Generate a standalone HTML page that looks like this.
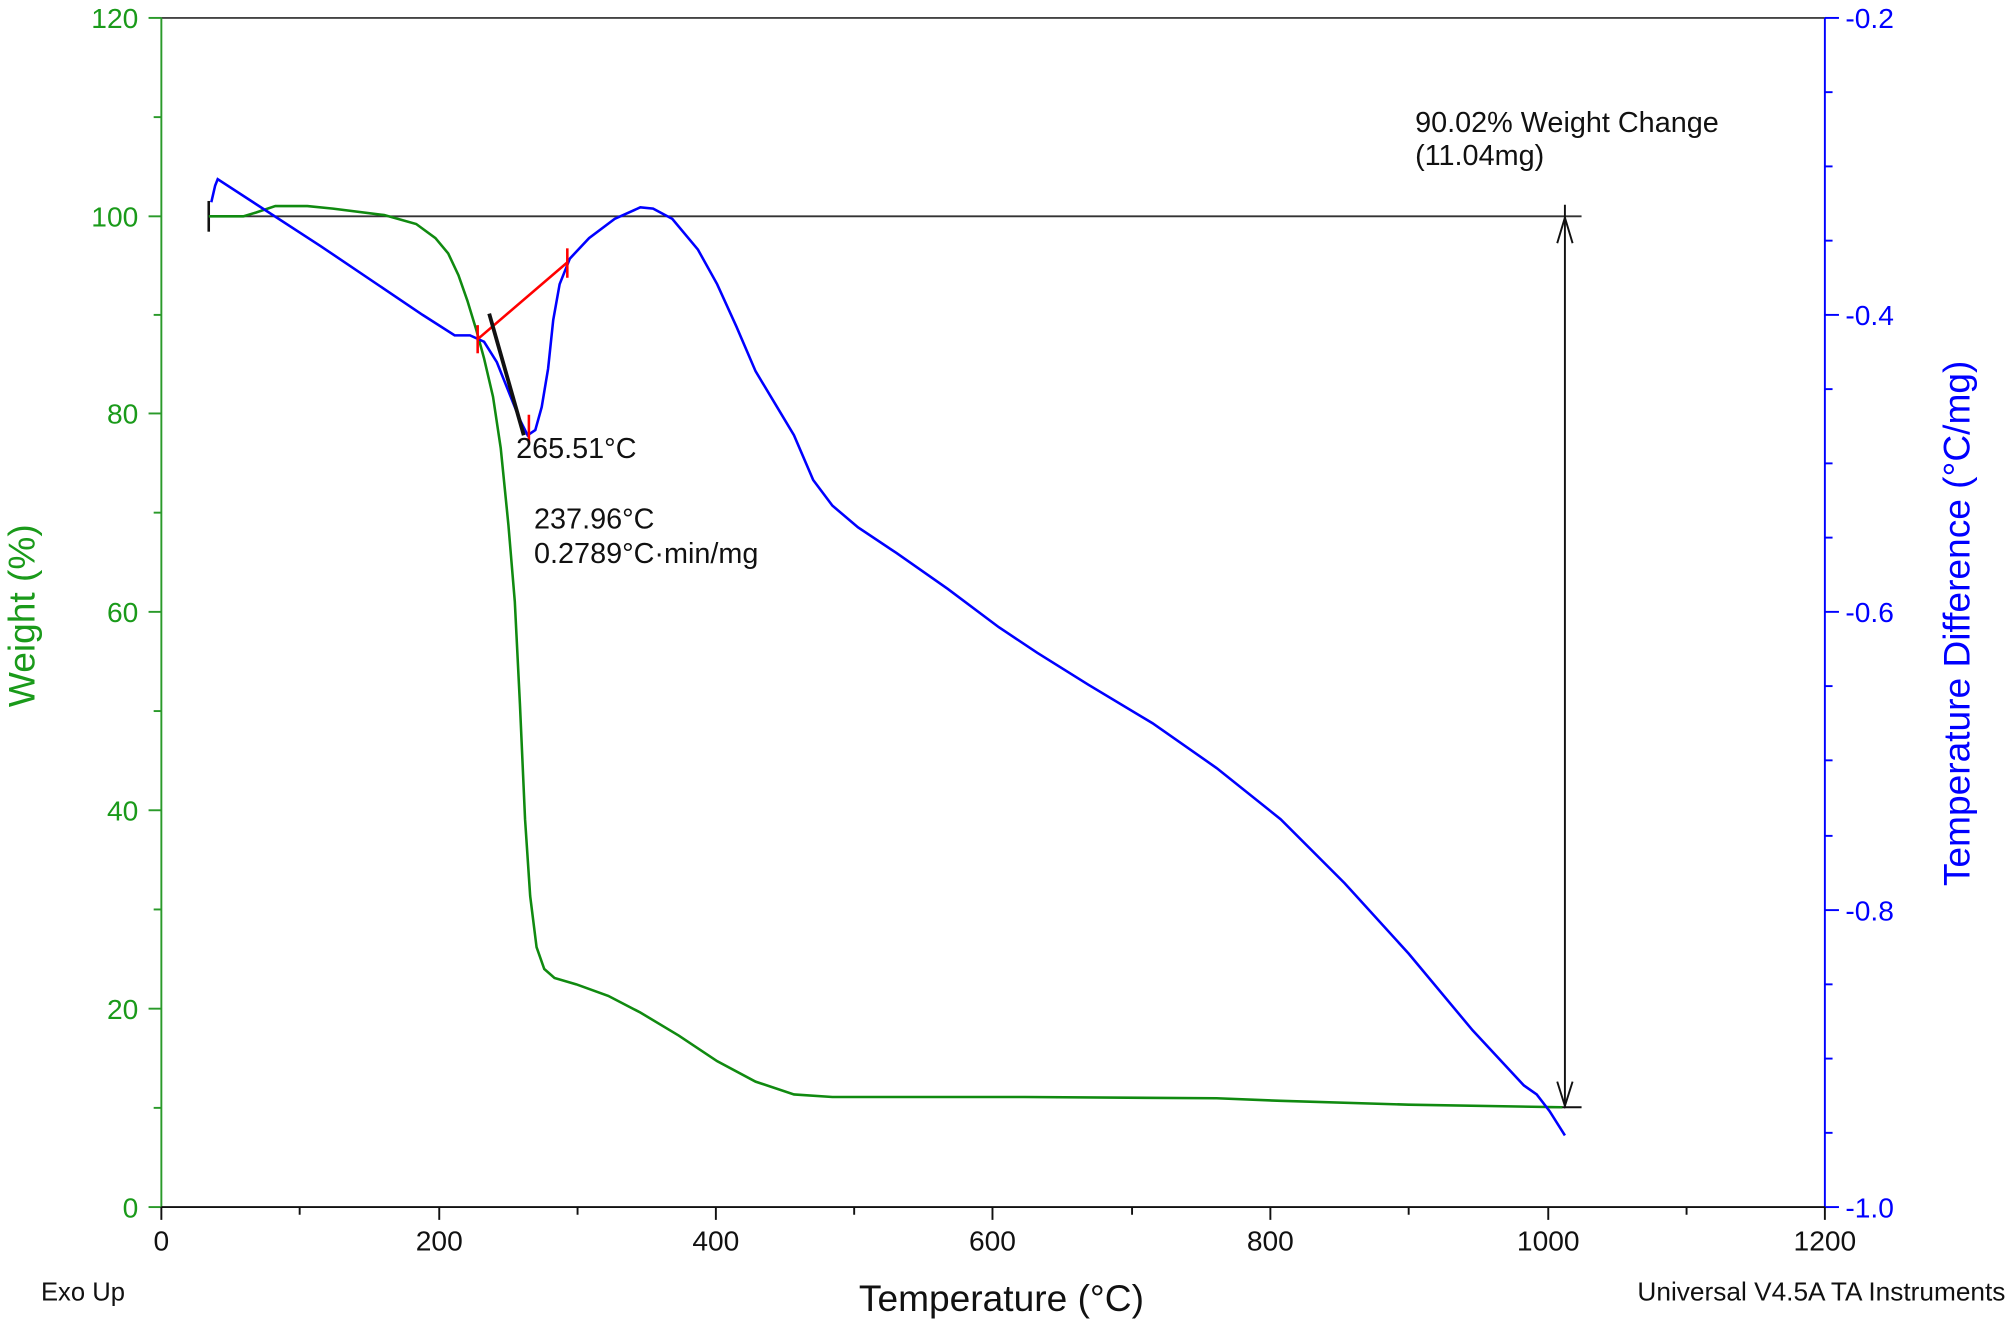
<!DOCTYPE html>
<html><head><meta charset="utf-8"><style>html,body{margin:0;padding:0;background:#fff}svg{display:block}text{font-family:"Liberation Sans",sans-serif}</style></head>
<body>
<svg width="2008" height="1321" viewBox="0 0 1568 1032" preserveAspectRatio="none" xmlns="http://www.w3.org/2000/svg">
<rect width="1568" height="1032" fill="#fff"/>
<line x1="126" y1="14" x2="1425" y2="14" stroke="#444" stroke-width="1.5"/>
<line x1="126" y1="14" x2="126" y2="943" stroke="#2a9a2a" stroke-width="1.5"/>
<g stroke="#2a9a2a" stroke-width="1.5">
<line x1="116" y1="14" x2="126" y2="14"/><line x1="120" y1="91.5" x2="126" y2="91.5"/>
<line x1="116" y1="169" x2="126" y2="169"/><line x1="120" y1="246" x2="126" y2="246"/>
<line x1="116" y1="323" x2="126" y2="323"/><line x1="120" y1="400.5" x2="126" y2="400.5"/>
<line x1="116" y1="478" x2="126" y2="478"/><line x1="120" y1="555.5" x2="126" y2="555.5"/>
<line x1="116" y1="633" x2="126" y2="633"/><line x1="120" y1="710.5" x2="126" y2="710.5"/>
<line x1="116" y1="788" x2="126" y2="788"/><line x1="120" y1="865.5" x2="126" y2="865.5"/>
<line x1="116" y1="943" x2="126" y2="943"/>
</g>
<g fill="#1a9a1a" font-size="22" text-anchor="end">
<text x="108" y="22">120</text><text x="108" y="177">100</text><text x="108" y="331">80</text>
<text x="108" y="486">60</text><text x="108" y="641">40</text><text x="108" y="796">20</text><text x="108" y="951">0</text>
</g>
<line x1="1425" y1="14" x2="1425" y2="943" stroke="#00f" stroke-width="1.5"/>
<g stroke="#00f" stroke-width="1.5">
<line x1="1425" y1="14" x2="1436" y2="14"/><line x1="1425" y1="72" x2="1431" y2="72"/><line x1="1425" y1="130" x2="1431" y2="130"/><line x1="1425" y1="188" x2="1431" y2="188"/>
<line x1="1425" y1="246" x2="1436" y2="246"/><line x1="1425" y1="304" x2="1431" y2="304"/><line x1="1425" y1="362" x2="1431" y2="362"/><line x1="1425" y1="420" x2="1431" y2="420"/>
<line x1="1425" y1="478" x2="1436" y2="478"/><line x1="1425" y1="536" x2="1431" y2="536"/><line x1="1425" y1="594" x2="1431" y2="594"/><line x1="1425" y1="653" x2="1431" y2="653"/>
<line x1="1425" y1="711" x2="1436" y2="711"/><line x1="1425" y1="769" x2="1431" y2="769"/><line x1="1425" y1="827" x2="1431" y2="827"/><line x1="1425" y1="885" x2="1431" y2="885"/>
<line x1="1425" y1="943" x2="1436" y2="943"/>
</g>
<g fill="#00f" font-size="22">
<text x="1441" y="22">-0.2</text><text x="1441" y="254">-0.4</text><text x="1441" y="486">-0.6</text><text x="1441" y="719">-0.8</text><text x="1441" y="951">-1.0</text>
</g>
<line x1="126" y1="943" x2="1425" y2="943" stroke="#111" stroke-width="1.5"/>
<g stroke="#111" stroke-width="1.5">
<line x1="126" y1="943" x2="126" y2="953"/><line x1="234" y1="943" x2="234" y2="949"/>
<line x1="343" y1="943" x2="343" y2="953"/><line x1="451" y1="943" x2="451" y2="949"/>
<line x1="559" y1="943" x2="559" y2="953"/><line x1="667" y1="943" x2="667" y2="949"/>
<line x1="775" y1="943" x2="775" y2="953"/><line x1="884" y1="943" x2="884" y2="949"/>
<line x1="992" y1="943" x2="992" y2="953"/><line x1="1100" y1="943" x2="1100" y2="949"/>
<line x1="1209" y1="943" x2="1209" y2="953"/><line x1="1317" y1="943" x2="1317" y2="949"/>
<line x1="1425" y1="943" x2="1425" y2="953"/>
</g>
<g fill="#111" font-size="22" text-anchor="middle">
<text x="126" y="977">0</text><text x="343" y="977">200</text><text x="559" y="977">400</text><text x="775" y="977">600</text>
<text x="992" y="977">800</text><text x="1209" y="977">1000</text><text x="1425" y="977">1200</text>
</g>
<text x="782" y="1024" font-size="29" text-anchor="middle" fill="#111">Temperature (°C)</text>
<text transform="translate(27,481) rotate(-90)" font-size="29" text-anchor="middle" fill="#1a9a1a">Weight (%)</text>
<text transform="translate(1538,487) rotate(-90)" font-size="29" text-anchor="middle" fill="#00f">Temperature Difference (°C/mg)</text>
<text x="32" y="1016" font-size="20" fill="#111">Exo Up</text>
<text x="1566" y="1016" font-size="20.5" fill="#111" text-anchor="end">Universal V4.5A TA Instruments</text>
<line x1="163" y1="169" x2="1235" y2="169" stroke="#333" stroke-width="1.5"/>
<line x1="163" y1="157" x2="163" y2="181" stroke="#111" stroke-width="2"/>
<line x1="1210" y1="865" x2="1235" y2="865" stroke="#111" stroke-width="1.5"/>
<line x1="1222" y1="160" x2="1222" y2="865" stroke="#111" stroke-width="1.5"/>
<polyline points="1216,190 1222,170 1228,190" fill="none" stroke="#111" stroke-width="1.5"/>
<polyline points="1216,845 1222,864 1228,845" fill="none" stroke="#111" stroke-width="1.5"/>
<polyline fill="none" stroke="#108a10" stroke-width="2" points="163,169 190,169 200,166 215,161 240,161 260,163 300,168 325,175 340,186 350,198 358,215 365,235 372,258 378,280 385,310 391,350 397,410 402,470 406,550 410,640 414,700 419,740 425,757 433,764 450,769 475,778 500,791 530,809 560,829 590,845 620,855 650,857 800,857 950,858 1000,860 1100,863 1220,865"/>
<polyline fill="none" stroke="#00f" stroke-width="2" points="165,158 168,145 170,140 250,192 330,246 355,262 367,262 378,267 388,283 398,308 406,328 412,340 418,336 423,318 428,288 432,250 437,222 445,202 460,186 480,171 500,162 510,163 525,171 545,195 560,222 575,255 590,290 605,315 620,340 635,375 650,395 670,412 700,432 740,460 780,490 810,510 850,535 900,565 950,600 1000,640 1050,690 1100,745 1150,805 1190,848 1200,855 1210,868 1222,887"/>
<line x1="373" y1="265" x2="443" y2="205" stroke="#f00" stroke-width="2"/>
<line x1="373" y1="254" x2="373" y2="276" stroke="#f00" stroke-width="2"/>
<line x1="443" y1="194" x2="443" y2="217" stroke="#f00" stroke-width="2"/>
<line x1="413" y1="324" x2="413" y2="346" stroke="#f00" stroke-width="2"/>
<line x1="382" y1="245" x2="409" y2="340" stroke="#111" stroke-width="3"/>
<g font-size="22.5" fill="#111">
<text x="403" y="358">265.51°C</text>
<text x="417" y="413">237.96°C</text>
<text x="417" y="440">0.2789°C·min/mg</text>
<text x="1105" y="103">90.02% Weight Change</text>
<text x="1105" y="129">(11.04mg)</text>
</g>
</svg>
</body></html>
